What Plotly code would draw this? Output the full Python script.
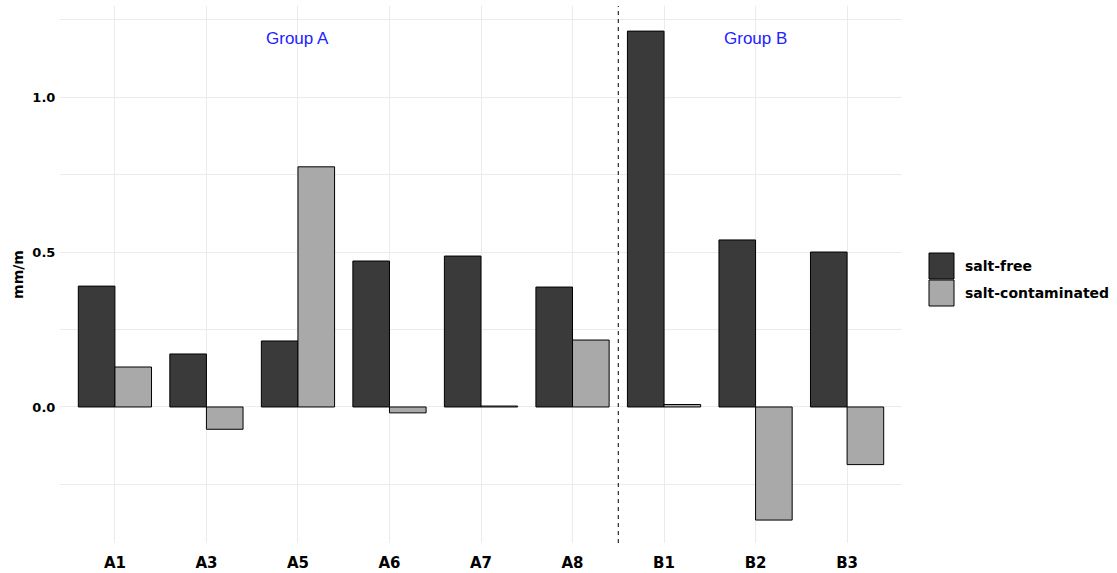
import plotly.graph_objects as go

categories = ["A1", "A3", "A5", "A6", "A7", "A8", "B1", "B2", "B3"]
salt_free = [0.390, 0.171, 0.213, 0.471, 0.487, 0.387, 1.213, 0.539, 0.500]
salt_contaminated = [0.129, -0.072, 0.775, -0.019, 0.003, 0.216, 0.008, -0.365, -0.186]
series_names = ["salt-free", "salt-contaminated"]
series_colors = ["#3a3a3a", "#a9a9a9"]
group_labels = ["Group A", "Group B"]
group_label_cats = ["A5", "B2"]
group_label_y = 1.19
y_tickvals = [-0.25, 0.0, 0.25, 0.5, 0.75, 1.0, 1.25]
y_ticktext = ["", "0.0", "", "0.5", "", "1.0", ""]

bold_font = "DejaVu Sans, Verdana, sans-serif"
plain_font = "Liberation Sans, Arial, sans-serif"

W, H = 1117, 573
M_L, M_R, M_T, M_B = 60, 215, 6, 30
plot_w = W - M_L - M_R
plot_h = H - M_T - M_B


def px_to_paper_x(px):
    return (px - M_L) / plot_w


def px_to_paper_y(py):
    return (H - M_B - py) / plot_h


fig = go.Figure()
for name, vals, col in zip(series_names, [salt_free, salt_contaminated], series_colors):
    fig.add_trace(go.Bar(x=categories, y=vals, name=name, showlegend=False,
                         marker=dict(color=col, line=dict(color="black", width=1))))

# dashed separator between groups
sep_index = categories.index("B1") - 0.5
fig.add_shape(type="line", xref="x", yref="paper", x0=sep_index, x1=sep_index, y0=0, y1=1,
              line=dict(color="black", width=1, dash="4px,4px"))

for lbl, cat in zip(group_labels, group_label_cats):
    fig.add_annotation(x=cat, y=group_label_y, text=lbl, showarrow=False,
                       font=dict(color="#2222ff", size=17, family=plain_font))

# legend (ggplot-style large keys)
key_x0, key_x1 = 929, 954
key_tops = [253, 280]
key_h = 26
for name, col, top in zip(series_names, series_colors, key_tops):
    fig.add_shape(type="rect", xref="paper", yref="paper",
                  x0=px_to_paper_x(key_x0), x1=px_to_paper_x(key_x1),
                  y0=px_to_paper_y(top + key_h), y1=px_to_paper_y(top),
                  fillcolor=col, line=dict(color="black", width=1), layer="above")
    fig.add_annotation(xref="paper", yref="paper", x=px_to_paper_x(963),
                       y=px_to_paper_y(top + key_h / 2), text=name, showarrow=False,
                       xanchor="left", yanchor="middle",
                       font=dict(size=14, family=bold_font, weight="bold", color="black"))

fig.update_layout(
    width=W, height=H,
    margin=dict(l=M_L, r=M_R, t=M_T, b=M_B),
    plot_bgcolor="white", paper_bgcolor="white",
    barmode="group", bargap=0.2, bargroupgap=0,
    font=dict(family=bold_font, color="black"),
    showlegend=False,
)
fig.update_xaxes(range=[-0.6, len(categories) - 0.4], showgrid=True, gridcolor="#ebebeb",
                 gridwidth=1, zeroline=False, showline=False, automargin=False,
                 ticks="outside", ticklen=6, tickcolor="rgba(0,0,0,0)",
                 tickfont=dict(size=15, family=bold_font, weight="bold", color="black"))
fig.update_yaxes(range=[-0.439, 1.294], tickvals=y_tickvals, ticktext=y_ticktext,
                 showgrid=True, gridcolor="#ebebeb", gridwidth=1, zeroline=False, showline=False,
                 automargin=False,
                 ticks="outside", ticklen=1, tickcolor="rgba(0,0,0,0)",
                 tickfont=dict(size=13, family=bold_font, weight="bold", color="black"),
                 title=dict(text="mm/m", standoff=5,
                            font=dict(size=14, family=bold_font, weight="bold", color="black")))

fig.write_html("out.html", config={"displayModeBar": False},
               post_script="document.body.style.margin='0';document.body.style.overflow='hidden';")
